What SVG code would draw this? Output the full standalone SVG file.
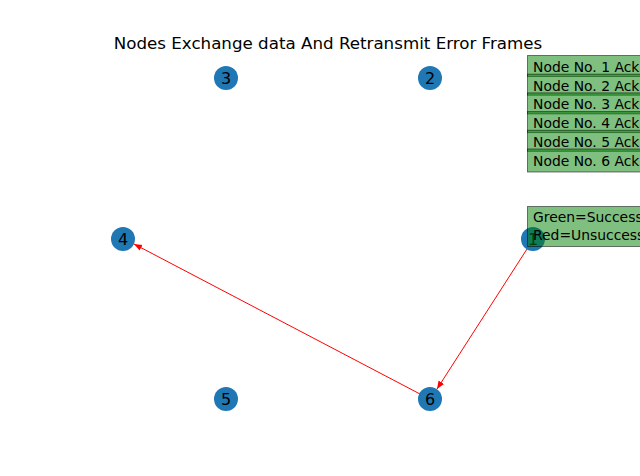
<svg xmlns="http://www.w3.org/2000/svg" width="640" height="476" viewBox="0 0 640 476">
<style>
.node circle{fill:#1f77b4}
.node text{font-family:"DejaVu Sans",sans-serif;font-size:16px;fill:#000;text-anchor:middle}
.edge{stroke:#ff0000;stroke-width:1;fill:none}
.box{fill:#008000;fill-opacity:0.5;stroke:#000;stroke-opacity:0.5;stroke-width:1}
.lt{font-family:"DejaVu Sans",sans-serif;font-size:13.9px;fill:#000}
.title{font-family:"DejaVu Sans",sans-serif;font-size:16.7px;fill:#000;text-anchor:middle}
</style>
<defs>
<marker id="ah" viewBox="0 0 10 10" refX="10" refY="5" markerWidth="8" markerHeight="8" orient="auto" markerUnits="userSpaceOnUse">
<path d="M0,1 L10,5 L0,9 Z" fill="#ff0000"/>
</marker>
</defs>
<rect width="640" height="476" fill="#fff"/>
<text class="title" x="328" y="49">Nodes Exchange data And Retransmit Error Frames</text>
<g id="connectors">
<line class="edge" x1="527" y1="249" x2="437" y2="389" marker-end="url(#ah)"/>
<line class="edge" x1="420" y1="394" x2="134" y2="244" marker-end="url(#ah)"/>
</g>
<g id="node3" class="node"><circle cx="226" cy="78" r="12"/><text x="226" y="84">3</text></g>
<g id="node2" class="node"><circle cx="430" cy="78" r="12"/><text x="430" y="84">2</text></g>
<g id="node4" class="node"><circle cx="123" cy="239" r="12"/><text x="123" y="245">4</text></g>
<g id="node1" class="node"><circle cx="533" cy="239" r="12"/><text x="533" y="245">1</text></g>
<g id="node5" class="node"><circle cx="226" cy="399" r="12"/><text x="226" y="405">5</text></g>
<g id="node6" class="node"><circle cx="430" cy="399" r="12"/><text x="430" y="405">6</text></g>
<g id="ack-legend">
<rect class="box" x="527.5" y="55.5" width="120" height="21"/>
<text class="lt" x="533" y="72">Node No. 1 Ack</text>
<rect class="box" x="527.5" y="74.2" width="120" height="21"/>
<text class="lt" x="533" y="90.7">Node No. 2 Ack</text>
<rect class="box" x="527.5" y="92.9" width="120" height="21"/>
<text class="lt" x="533" y="109.4">Node No. 3 Ack</text>
<rect class="box" x="527.5" y="111.6" width="120" height="21"/>
<text class="lt" x="533" y="128.1">Node No. 4 Ack</text>
<rect class="box" x="527.5" y="130.3" width="120" height="21"/>
<text class="lt" x="533" y="146.8">Node No. 5 Ack</text>
<rect class="box" x="527.5" y="149" width="120" height="23"/>
<text class="lt" x="533" y="165.5">Node No. 6 Ack</text>
</g>
<g id="color-legend">
<rect class="box" x="527.5" y="206.5" width="120" height="40"/>
<text class="lt" x="533" y="222">Green=Success</text>
<text class="lt" x="533" y="240">Red=Unsuccessful</text>
</g>
</svg>
